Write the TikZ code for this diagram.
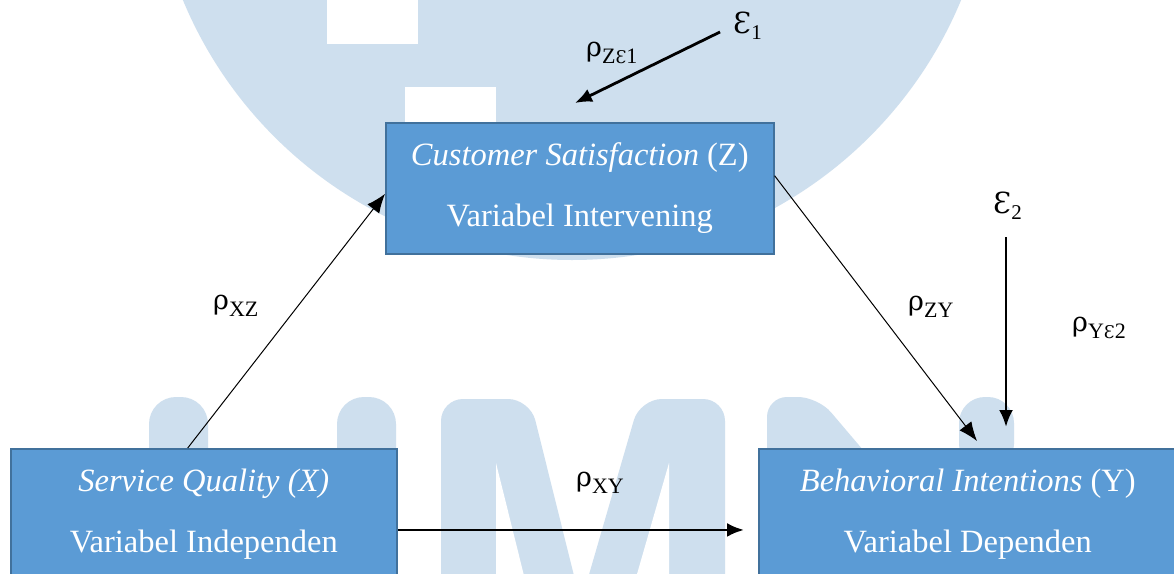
\documentclass[tikz,border=0pt]{standalone}
\usepackage{fontspec}
\setmainfont{Liberation Serif}
\newfontfamily\dvs{DejaVu Serif}
\usetikzlibrary{arrows.meta,calc}
\definecolor{wm}{HTML}{CEDFEE}
\definecolor{boxfill}{HTML}{5B9BD5}
\definecolor{boxline}{HTML}{41719C}
\newcommand\rh{{\dvs\fontsize{27}{27}\selectfont ρ}}
\newcommand\sbx[1]{\raisebox{-7pt}{\fontsize{22}{22}\selectfont #1}}
\newcommand\sep{{\dvs\fontsize{17.5}{17.5}\selectfont Ɛ}}
\newcommand\bigeps[1]{{\dvs\fontsize{29}{29}\selectfont Ɛ}\raisebox{-6pt}{\fontsize{21}{21}\selectfont #1}}
\begin{document}
\begin{tikzpicture}[x=1pt,y=-1pt,
  vbox/.style={draw=boxline,line width=1.6pt,fill=boxfill,text=white,align=center,
    font=\fontsize{32.5}{61}\selectfont,inner sep=0pt,anchor=north west,minimum height=131pt},
  lbl/.style={inner sep=0pt,anchor=base west},
  thinarr/.style={line width=1pt,-{Latex[length=19pt,width=15pt]}},
  thickarr/.style={line width=2.8pt,-{Latex[length=17pt,width=14pt]}}]
\useasboundingbox (0,0) rectangle (1174,573);
\fill[white] (0,0) rectangle (1174,573);
% watermark
\fill[wm] (572,-161) circle[radius=421pt];
\fill[white] (327,0) rectangle (418,44);
\fill[white] (405,87) rectangle (496,130);
\fill[wm,rounded corners=27pt] (149,640) -- (149,397) -- (208,397) -- (208,640) -- cycle;
\fill[wm,rounded corners=27pt] (337,640) -- (337,397) -- (396,397) -- (396,640) -- cycle;
\fill[wm,rounded corners=22pt] (441,640) -- (441,399) -- (530,399) -- (590,640) -- cycle;
\fill[white] (496,463) -- (540,640) -- (496,640) -- cycle;
\fill[wm,rounded corners=22pt] (725,640) -- (725,399) -- (640,399) -- (570,640) -- cycle;
\fill[white] (669,463) -- (669,640) -- (618,640) -- cycle;
\fill[wm,rounded corners=20pt] (767,470) -- (767,397) -- (818,397) -- (880,470) -- cycle;
\fill[wm,rounded corners=26pt] (959,470) -- (959,397) -- (1014,397) -- (1014,470) -- cycle;
% boxes
\node[vbox,minimum width=388pt] (Z) at (385,122) {\textit{Customer Satisfaction} (Z)\\Variabel Intervening};
\node[vbox,minimum width=386pt] (X) at (10,448) {\textit{Service Quality (X)}\\Variabel Independen};
\node[vbox,minimum width=418pt] (Y) at (758,448) {\textit{Behavioral Intentions} (Y)\\Variabel Dependen};
% labels
\node[lbl] (e1) at (733,33) {\bigeps{1}};
\node[lbl] (e2) at (993,213) {\bigeps{2}};
\node[lbl] (lze) at (586,56) {\rh\sbx{Z\sep1}};
\node[lbl] (lxz) at (213,309) {\rh\sbx{XZ}};
\node[lbl] (lzy) at (908,310) {\rh\sbx{ZY}};
\node[lbl] (lye) at (1072,331) {\rh\sbx{Y\sep2}};
\node[lbl] (lxy) at (576,486) {\rh\sbx{XY}};
% connectors
\draw[thinarr] ($(X.north west)!0.4585!(X.north east)$) -- ($(Z.north west)!0.542!(Z.south west)$);
\draw[thinarr] ($(Z.north east)!0.405!(Z.south east)$) -- ($(Y.north west)+(219,-7)$);
\draw[thickarr] ($(X.north east)!0.618!(X.south east)$) -- ($(Y.north west)!0.618!(Y.south west)+(-14,0)$);
\draw[thickarr] ($(e1.base west)+(-13,-1)$) -- ($(Z.north west)+(190,-19)$);
\draw[thickarr] ($(e2.base west)+(13,24)$) -- ($(Y.north west)+(248,-21)$);
\end{tikzpicture}
\end{document}
